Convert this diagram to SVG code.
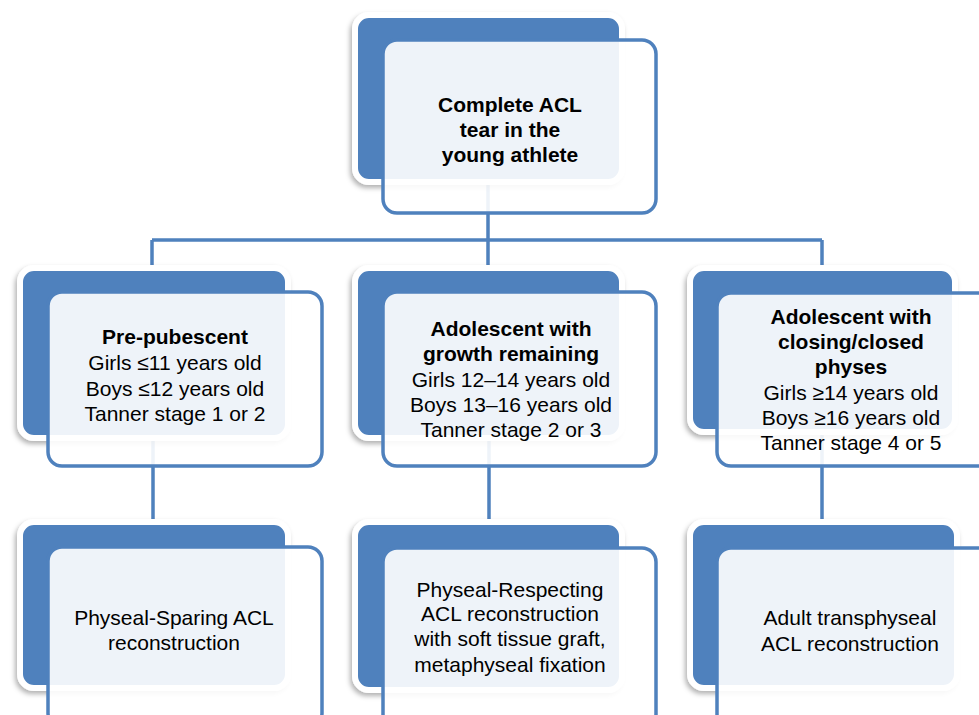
<svg xmlns="http://www.w3.org/2000/svg" width="979" height="715" viewBox="0 0 979 715">
  <defs>
    <filter id="sh" x="-10%" y="-10%" width="120%" height="125%">
      <feDropShadow dx="-2" dy="3" stdDeviation="2.5" flood-color="#000" flood-opacity="0.3"/>
    </filter>
  </defs>
  <style>
    .back { fill: #4f81bd; stroke: #ffffff; stroke-width: 6; filter: url(#sh); }
    .front { fill: #ffffff; fill-opacity: 0.9; stroke: #4f81bd; stroke-width: 3.5; }
    .conn { fill: none; stroke: #4f81bd; stroke-width: 3.5; }
    text { font-family: "Liberation Sans", Arial, sans-serif; font-size: 21px; fill: #000; text-anchor: middle; }
    .b { font-weight: bold; }
  </style>
  <rect width="979" height="715" fill="#ffffff"/>
  <g id="connectors">
    <path class="conn" d="M488,182 V240 M152,240 H822 M152,240 V268 M488,240 V268 M822,240 V268 M153,438 V522 M489,438 V522 M822,432 V522"/>
  </g>
  <g id="root">
    <rect class="back" x="355" y="15" width="267" height="167" rx="14"/>
    <rect class="front" x="383" y="40" width="273" height="173" rx="14"/>
    <text class="b" x="510" y="112">Complete ACL</text>
    <text class="b" x="510" y="137">tear in the</text>
    <text class="b" x="510" y="162">young athlete</text>
  </g>
  <g id="prepubescent">
    <rect class="back" x="20" y="268" width="268" height="170" rx="14"/>
    <rect class="front" x="48" y="292" width="274" height="174" rx="14"/>
    <text class="b" x="175" y="344">Pre-pubescent</text>
    <text x="175" y="370">Girls ≤11 years old</text>
    <text x="175" y="396">Boys ≤12 years old</text>
    <text x="175" y="421">Tanner stage 1 or 2</text>
  </g>
  <g id="adolescent-growth">
    <rect class="back" x="355" y="268" width="267" height="170" rx="14"/>
    <rect class="front" x="383" y="292" width="273" height="174" rx="14"/>
    <text class="b" x="511" y="336">Adolescent with</text>
    <text class="b" x="511" y="361">growth remaining</text>
    <text x="511" y="387">Girls 12–14 years old</text>
    <text x="511" y="412">Boys 13–16 years old</text>
    <text x="511" y="437">Tanner stage 2 or 3</text>
  </g>
  <g id="adolescent-closed">
    <rect class="back" x="690" y="268" width="265" height="164" rx="14"/>
    <rect class="front" x="717" y="293" width="275" height="173" rx="14"/>
    <text class="b" x="851" y="324">Adolescent with</text>
    <text class="b" x="851" y="349">closing/closed</text>
    <text class="b" x="851" y="374">physes</text>
    <text x="851" y="400">Girls ≥14 years old</text>
    <text x="851" y="425">Boys ≥16 years old</text>
    <text x="851" y="450">Tanner stage 4 or 5</text>
  </g>
  <g id="physeal-sparing">
    <rect class="back" x="20" y="522" width="268" height="166" rx="14"/>
    <rect class="front" x="48" y="547" width="274" height="180" rx="14"/>
    <text x="174" y="625">Physeal-Sparing ACL</text>
    <text x="174" y="650">reconstruction</text>
  </g>
  <g id="physeal-respecting">
    <rect class="back" x="355" y="522" width="267" height="168" rx="14"/>
    <rect class="front" x="383" y="548" width="273" height="180" rx="14"/>
    <text x="510" y="597">Physeal-Respecting</text>
    <text x="510" y="621">ACL reconstruction</text>
    <text x="510" y="646">with soft tissue graft,</text>
    <text x="510" y="672">metaphyseal fixation</text>
  </g>
  <g id="adult-transphyseal">
    <rect class="back" x="690" y="522" width="267" height="166" rx="14"/>
    <rect class="front" x="717" y="548" width="275" height="180" rx="14"/>
    <text x="850" y="625">Adult transphyseal</text>
    <text x="850" y="651">ACL reconstruction</text>
  </g>
</svg>
